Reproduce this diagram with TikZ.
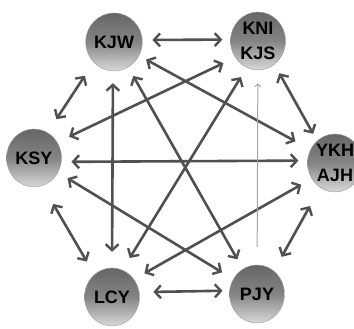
\documentclass[tikz,border=0pt]{standalone}
\usepackage{fontspec}
\setmainfont{Liberation Sans}
\usetikzlibrary{shapes.geometric,arrows.meta}
\definecolor{arr}{HTML}{505050}
\tikzset{
  person/.style={ellipse,minimum width=55pt,minimum height=58pt,inner sep=0pt,
    top color=black!60,bottom color=black!15,middle color=black!48,
    draw=black!40,line width=0.4pt,
    font=\fontsize{18}{25}\selectfont\bfseries,align=center,text=black},
  link/.style={draw=arr,line width=2.6pt,{Straight Barb[length=6pt,width=13pt,line width=2.4pt]}-{Straight Barb[length=6pt,width=13pt,line width=2.4pt]}},
  gap/.style 2 args={shorten <=#1pt,shorten >=#2pt},
  thin/.style={draw=black!35,line width=1pt,-{Straight Barb[length=3pt,width=6pt]}}
}
\begin{document}
\begin{tikzpicture}[x=1pt,y=-1pt]
\useasboundingbox (0,0) rectangle (354,329);
\node[person] (kjw) at (114,42) {KJW};
\node[person] (kni) at (258,41) {KNI\\KJS};
\node[person] (ykh) at (335,163) {YKH\\AJH};
\node[person] (ksy) at (34,158) {KSY};
\node[person] (lcy) at (112,297) {LCY};
\node[person] (pjy) at (257,294) {PJY};
\draw[link,gap={10}{8}] (kjw.4) -- (kni.177);
\draw[link,gap={16}{16}] (kjw.225) -- (ksy.62);
\draw[link,gap={10}{8}] (kni.305) -- (ykh.129);
\draw[link,gap={21}{15}] (ksy.287) -- (lcy.128);
\draw[link,gap={21}{16}] (ykh.239) -- (pjy.54);
\draw[link,gap={14}{7}] (lcy.10) -- (pjy.173);
\draw[link,gap={12}{16}] (kjw.268) -- (lcy.90);
\draw[link,gap={10}{11}] (kjw) -- (pjy);
\draw[link,gap={8}{17}] (kjw) -- (ykh);
\draw[link,gap={13}{13}] (kni.216) -- (ksy.34);
\draw[link,gap={11}{14}] (kni.247) -- (lcy.69);
\draw[link,gap={10}{9}] (ksy.352) -- (ykh.175);
\draw[link,gap={11}{13}] (ksy.329) -- (pjy.148);
\draw[link,gap={12}{12}] (ykh.214) -- (lcy.39);
\draw[thin,gap={18}{13}] (pjy) -- (kni);
\end{tikzpicture}
\end{document}
